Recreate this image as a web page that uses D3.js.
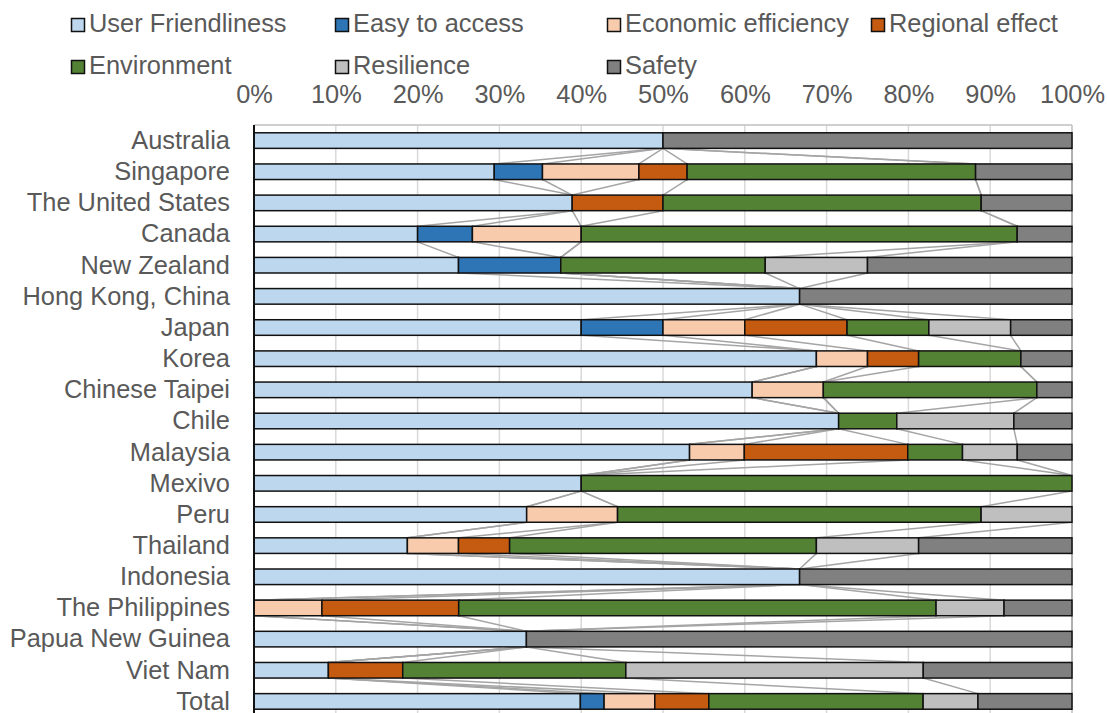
<!DOCTYPE html>
<html>
<head>
<meta charset="utf-8">
<script src="https://cdn.jsdelivr.net/npm/d3@7"></script>
<style>
  html, body { margin: 0; padding: 0; background: #fff; }
  svg text { font-family: "Liberation Sans", Arial, sans-serif; fill: #595959; }
</style>
</head>
<body>
<svg id="chart" width="1107" height="713"></svg>
<script>
// Economies, top to bottom
const categories = [
  "Australia", "Singapore", "The United States", "Canada", "New Zealand",
  "Hong Kong, China", "Japan", "Korea", "Chinese Taipei", "Chile", "Malaysia",
  "Mexivo", "Peru", "Thailand", "Indonesia", "The Philippines",
  "Papua New Guinea", "Viet Nam", "Total"
];

// Share of each criterion per economy (%)
const userFriendliness   = [50, 29.4, 38.9, 20.0, 25.0, 66.7, 40.0, 68.75, 60.9, 71.4, 53.3, 40, 33.3, 18.75, 66.7, 0, 33.3, 9.1, 39.9];
const easyToAccess       = [0, 5.9, 0, 6.7, 12.5, 0, 10.0, 0, 0, 0, 0, 0, 0, 0, 0, 0, 0, 0, 2.9];
const economicEfficiency = [0, 11.8, 0, 13.3, 0, 0, 10.0, 6.25, 8.7, 0, 6.7, 0, 11.1, 6.25, 0, 8.3, 0, 0, 6.2];
const regionalEffect     = [0, 5.9, 11.1, 0, 0, 0, 12.5, 6.25, 0, 0, 20.0, 0, 0, 6.25, 0, 16.7, 0, 9.1, 6.6];
const environment        = [0, 35.3, 38.9, 53.3, 25.0, 0, 10.0, 12.5, 26.1, 7.1, 6.7, 60, 44.4, 37.5, 0, 58.3, 0, 27.3, 26.2];
const resilience         = [0, 0, 0, 0, 12.5, 0, 10.0, 0, 0, 14.3, 6.7, 0, 11.1, 12.5, 0, 8.3, 0, 36.4, 6.7];
const safety             = [50, 11.8, 11.1, 6.7, 25.0, 33.3, 7.5, 6.25, 4.3, 7.1, 6.7, 0, 0, 18.75, 33.3, 8.3, 66.7, 18.2, 11.5];

const seriesNames = [
  "User Friendliness", "Easy to access", "Economic efficiency", "Regional effect",
  "Environment", "Resilience", "Safety"
];
const seriesValues = [
  userFriendliness, easyToAccess, economicEfficiency, regionalEffect,
  environment, resilience, safety
];
const tickValues = [0, 10, 20, 30, 40, 50, 60, 70, 80, 90, 100];

// Styling
const colors = ["#BDD7EE", "#2E75B6", "#F8CBAD", "#C55A11", "#548235", "#BFBFBF", "#808080"];
const fontSize = 25.4;

// Table of rows for the stack layout
const rows = categories.map((c, i) => {
  const r = { category: c };
  seriesNames.forEach((s, k) => { r[s] = seriesValues[k][i]; });
  return r;
});

const stacked = d3.stack()
  .keys(seriesNames)
  .offset(d3.stackOffsetExpand)(rows);

const svg = d3.select("#chart");

const plot = { left: 254, right: 1072, top: 125, bottom: 717 };

const x = d3.scaleLinear().domain([0, 1]).range([plot.left, plot.right]);
const y = d3.scaleBand()
  .domain(categories)
  .range([plot.top, plot.bottom])
  .paddingInner(0.5)
  .paddingOuter(0.25);

// Vertical gridlines
svg.append("g")
  .selectAll("line")
  .data(tickValues)
  .join("line")
  .attr("x1", d => x(d / 100))
  .attr("x2", d => x(d / 100))
  .attr("y1", plot.top)
  .attr("y2", plot.bottom)
  .attr("stroke", d => d === 100 ? "#BFBFBF" : "#D9D9D9")
  .attr("stroke-width", 1.5);

// Top axis line
svg.append("line")
  .attr("x1", plot.left).attr("x2", plot.right)
  .attr("y1", plot.top).attr("y2", plot.top)
  .attr("stroke", "#BFBFBF")
  .attr("stroke-width", 1.5);

// Top axis labels
const axis = d3.axisTop(x)
  .tickValues(tickValues.map(v => v / 100))
  .tickFormat(d3.format(".0%"))
  .tickSize(0)
  .tickPadding(22);

const axisG = svg.append("g")
  .attr("transform", `translate(0,${plot.top})`)
  .call(axis);
axisG.select(".domain").remove();
axisG.selectAll("text")
  .attr("font-size", fontSize)
  .attr("font-family", "Liberation Sans, Arial, sans-serif")
  .attr("fill", "#595959");

// Series lines joining each segment end between neighbouring bars
const lineG = svg.append("g");
stacked.forEach(layer => {
  for (let i = 0; i < layer.length - 1; i++) {
    const a = layer[i], b = layer[i + 1];
    lineG.append("line")
      .attr("x1", x(a[1]))
      .attr("y1", y(a.data.category) + y.bandwidth())
      .attr("x2", x(b[1]))
      .attr("y2", y(b.data.category))
      .attr("stroke", "#A5A5A5")
      .attr("stroke-width", 1.5);
  }
});

// Bars
svg.append("g")
  .selectAll("g")
  .data(stacked)
  .join("g")
  .attr("fill", (d, i) => colors[i])
  .selectAll("rect")
  .data(d => d.filter(p => p[1] - p[0] > 1e-9))
  .join("rect")
  .attr("x", d => x(d[0]))
  .attr("width", d => x(d[1]) - x(d[0]))
  .attr("y", d => y(d.data.category))
  .attr("height", y.bandwidth())
  .attr("stroke", "#111")
  .attr("stroke-width", 1.5);

// Category axis
svg.append("line")
  .attr("x1", plot.left).attr("x2", plot.left)
  .attr("y1", plot.top).attr("y2", plot.bottom)
  .attr("stroke", "#111")
  .attr("stroke-width", 2);

svg.append("g")
  .selectAll("text")
  .data(categories)
  .join("text")
  .attr("x", plot.left - 24)
  .attr("y", d => y(d) + y.bandwidth() / 2)
  .attr("dy", "0.33em")
  .attr("text-anchor", "end")
  .attr("font-size", fontSize)
  .text(d => d);

// Legend: two rows of four columns
const legendCols = [89, 353, 625, 889];
const legendRows = [32, 74];
const legend = svg.append("g")
  .selectAll("g")
  .data(seriesNames)
  .join("g")
  .attr("transform", (d, i) => `translate(${legendCols[i % 4]},${legendRows[Math.floor(i / 4)]})`);

legend.append("rect")
  .attr("x", -17.5)
  .attr("y", -13.5)
  .attr("width", 13)
  .attr("height", 13)
  .attr("fill", (d, i) => colors[i])
  .attr("stroke", "#111")
  .attr("stroke-width", 1.5);

legend.append("text")
  .attr("x", 0)
  .attr("y", 0)
  .attr("font-size", fontSize)
  .text(d => d);
</script>
</body>
</html>
